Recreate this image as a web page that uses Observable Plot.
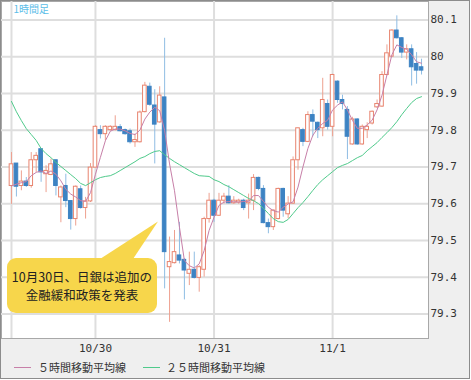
<!DOCTYPE html>
<html>
<head>
<meta charset="utf-8">
<script src="https://cdn.jsdelivr.net/npm/d3@7"></script>
<script src="https://cdn.jsdelivr.net/npm/@observablehq/plot@0.6"></script>
<style>
  html, body { margin: 0; padding: 0; background: #ffffff; }
  #wrap { position: relative; width: 470px; height: 379px; box-sizing: border-box;
          border: 1px solid #8c8c8c; background: #efefef; overflow: hidden; }
  #wrap svg { display: block; }
  .lg-line { position: absolute; height: 0; width: 17px; top: 366px; }
  .lg-text { position: absolute; top: 359px; font: 11px "Noto Sans CJK JP", sans-serif;
             line-height: 14px; color: #333; white-space: nowrap; }
</style>
</head>
<body>
<div id="wrap"></div>
<script>
// 1-hour bars, USD/JPY, times in JST wall clock (stored as UTC)
const start = Date.UTC(2012, 9, 29, 7);
const opens = [79.648,79.709,79.648,79.660,79.648,79.718,79.748,79.680,79.678,79.718,
  79.617,79.648,79.607,79.558,79.639,79.588,79.606,79.698,79.800,79.789,
  79.800,79.800,79.808,79.800,79.797,79.767,79.767,79.849,79.918,79.867,
  79.821,79.889,79.427,79.438,79.459,79.447,79.409,79.420,79.398,79.420,
  79.558,79.608,79.567,79.608,79.619,79.601,79.603,79.608,79.601,79.608,
  79.670,79.640,79.547,79.536,79.558,79.640,79.571,79.600,79.718,79.800,
  79.768,79.841,79.820,79.805,79.871,79.809,79.932,79.882,79.855,79.761,
  79.829,79.761,79.800,79.818,79.862,79.864,79.950,80.000,80.071,80.050,
  80.011,80.020,79.980,79.971];
const highs = [79.739,79.709,79.689,79.671,79.739,79.739,79.748,79.703,79.721,79.718,
  79.648,79.680,79.607,79.648,79.648,79.617,79.709,79.812,79.812,79.812,
  79.812,79.839,79.815,79.803,79.803,79.789,79.852,79.930,79.928,79.910,
  79.918,80.050,79.509,79.527,79.549,79.450,79.468,79.468,79.431,79.563,
  79.628,79.612,79.628,79.628,79.649,79.619,79.612,79.612,79.626,79.679,
  79.672,79.649,79.558,79.583,79.642,79.642,79.619,79.727,79.805,79.805,
  79.850,79.855,79.822,79.941,79.882,79.952,79.934,79.895,79.864,79.835,
  79.831,79.814,79.820,79.852,79.882,79.959,80.032,80.073,80.111,80.052,
  80.032,80.032,80.011,79.993];
const lows = [79.598,79.618,79.635,79.644,79.642,79.685,79.658,79.630,79.676,79.621,
  79.548,79.589,79.528,79.539,79.585,79.558,79.603,79.698,79.776,79.771,
  79.797,79.798,79.795,79.786,79.762,79.753,79.765,79.847,79.865,79.708,
  79.819,79.368,79.277,79.436,79.436,79.338,79.377,79.395,79.359,79.400,
  79.547,79.549,79.565,79.599,79.599,79.598,79.598,79.581,79.558,79.581,
  79.635,79.545,79.518,79.527,79.556,79.563,79.559,79.598,79.691,79.755,
  79.766,79.782,79.777,79.782,79.800,79.782,79.873,79.855,79.720,79.759,
  79.759,79.759,79.777,79.814,79.859,79.862,79.948,79.998,80.048,79.995,
  79.991,79.920,79.925,79.950];
const closes = [79.707,79.646,79.660,79.648,79.718,79.730,79.685,79.689,79.707,79.648,
  79.644,79.607,79.558,79.646,79.588,79.606,79.698,79.809,79.789,79.809,
  79.809,79.809,79.797,79.789,79.767,79.773,79.848,79.921,79.869,79.815,
  79.894,79.468,79.441,79.468,79.445,79.418,79.420,79.398,79.427,79.558,
  79.608,79.567,79.608,79.619,79.601,79.608,79.608,79.588,79.608,79.670,
  79.640,79.547,79.536,79.581,79.640,79.581,79.600,79.718,79.805,79.768,
  79.841,79.823,79.800,79.882,79.809,79.950,79.882,79.871,79.782,79.829,
  79.761,79.809,79.809,79.850,79.871,79.950,80.009,80.071,80.050,80.011,
  80.020,79.971,79.962,79.962];
const ma5 = [79.648,79.653,79.657,79.660,79.676,79.685,79.689,79.682,79.689,79.680,
  79.662,79.639,79.626,79.618,79.608,79.606,79.630,79.680,79.726,79.771,
  79.797,79.803,79.803,79.798,79.791,79.788,79.800,79.830,79.849,79.862,
  79.853,79.799,79.708,79.635,79.536,79.445,79.431,79.425,79.436,79.472,
  79.527,79.563,79.595,79.604,79.606,79.605,79.604,79.606,79.606,79.622,
  79.622,79.606,79.590,79.581,79.577,79.590,79.599,79.605,79.645,79.700,
  79.750,79.786,79.805,79.818,79.827,79.855,79.868,79.877,79.855,79.827,
  79.805,79.805,79.814,79.827,79.855,79.895,79.950,80.005,80.032,80.025,
  80.020,80.005,79.986,79.982];
const ma25 = [79.878,79.850,79.826,79.804,79.788,79.772,79.750,79.736,79.725,79.712,
  79.701,79.690,79.679,79.668,79.655,79.649,79.657,79.665,79.671,79.674,
  79.676,79.682,79.690,79.698,79.706,79.714,79.723,79.728,79.736,79.742,
  79.744,79.733,79.723,79.714,79.706,79.698,79.690,79.682,79.676,79.675,
  79.674,79.665,79.660,79.652,79.646,79.638,79.630,79.622,79.614,79.608,
  79.600,79.587,79.573,79.559,79.551,79.549,79.557,79.573,79.589,79.603,
  79.619,79.636,79.652,79.665,79.676,79.687,79.698,79.704,79.709,79.717,
  79.725,79.731,79.744,79.755,79.766,79.780,79.793,79.807,79.823,79.842,
  79.859,79.875,79.886,79.891];
const yTicks = [79.3, 79.4, 79.5, 79.6, 79.7, 79.8, 79.9, 80.0, 80.1];
const dayTicks = ["2012-10-30", "2012-10-31", "2012-11-01"];
const periodLabel = "1時間足";
const legendLabels = ["５時間移動平均線", "２５時間移動平均線"];
const noteLines = ["10月30日、日銀は追加の", "金融緩和政策を発表"];
const notePoint = { time: Date.UTC(2012, 9, 30, 12, 45), price: 79.55 };

const HOUR = 3600e3;
const UP = "#e8846f", UP_WICK = "#eea08f", DOWN = "#3d83c3", DOWN_WICK = "#8fbde3";
const MA5_COLOR = "#c77fa8", MA25_COLOR = "#4fca8b", YELLOW = "#f7d64b";

const bars = opens.map((o, i) => ({
  t: new Date(start + i * HOUR), open: o, high: highs[i], low: lows[i], close: closes[i],
  up: closes[i] >= o, ma5: ma5[i], ma25: ma25[i]
}));
const upBars = bars.filter(d => d.up), downBars = bars.filter(d => !d.up);
const half = 22 * 60e3;
const dayDates = dayTicks.map(s => new Date(s + "T00:00:00Z"));
const gridDates = [new Date(start), ...dayDates];

const chart = Plot.plot({
  width: 468, height: 357,
  marginLeft: 0, marginRight: 41, marginTop: 0, marginBottom: 20,
  style: { background: "transparent", fontFamily: "'DejaVu Sans Mono', monospace", fontSize: "11px", color: "#333" },
  x: { type: "utc", domain: [new Date(start - 2.02 * HOUR), new Date(start + 84.41 * HOUR)], axis: null, label: null },
  y: { domain: [79.233, 80.150], axis: null, label: null },
  marks: [
    Plot.frame({ fill: "#ffffff", stroke: "#a8a8a8" }),
    Plot.gridY(yTicks, { stroke: "#dedede", strokeWidth: 2, strokeOpacity: 1 }),
    Plot.gridX(gridDates, { stroke: "#dedede", strokeWidth: 2, strokeOpacity: 1 }),
    Plot.axisY(yTicks, { anchor: "right", tickSize: 0, tickPadding: 2, label: null,
      tickFormat: d => String(d), fill: "#333" }),
    Plot.axisX(dayDates, { anchor: "bottom", tickSize: 0, tickPadding: 6, label: null,
      tickFormat: d => `${d.getUTCMonth() + 1}/${d.getUTCDate()}`, fill: "#333" }),
    Plot.text([periodLabel], { frameAnchor: "top-left", dx: 12, dy: 4, fill: "#5bbde8",
      fontSize: 10, fontFamily: "'Noto Sans CJK JP', sans-serif" }),
    Plot.ruleX(upBars, { x: "t", y1: "low", y2: "high", stroke: UP_WICK, strokeWidth: 1 }),
    Plot.ruleX(downBars, { x: "t", y1: "low", y2: "high", stroke: DOWN_WICK, strokeWidth: 1 }),
    Plot.rect(upBars, { x1: d => new Date(+d.t - half), x2: d => new Date(+d.t + half),
      y1: "open", y2: "close", fill: "#ffffff", stroke: UP, strokeWidth: 1 }),
    Plot.rect(downBars, { x1: d => new Date(+d.t - half), x2: d => new Date(+d.t + half),
      y1: "open", y2: "close", fill: DOWN, stroke: DOWN, strokeWidth: 1 }),
    Plot.line(bars, { x: "t", y: "ma25", stroke: MA25_COLOR, strokeWidth: 1 }),
    Plot.line(bars, { x: "t", y: "ma5", stroke: MA5_COLOR, strokeWidth: 1 })
  ]
});

// Callout pointing at the BoJ announcement
const sx = chart.scale("x"), sy = chart.scale("y");
const tipX = sx.apply(new Date(notePoint.time)), tipY = sy.apply(notePoint.price);
const g = d3.select(chart).append("g");
const box = { x: 6, y: 257, w: 150, h: 55 };
g.append("path")
  .attr("d", `M${box.x + 93},${box.y + 1} L${tipX},${tipY} L${box.x + 126},${box.y + 1} Z`)
  .attr("fill", YELLOW);
g.append("rect").attr("x", box.x).attr("y", box.y).attr("width", box.w).attr("height", box.h)
  .attr("rx", 9).attr("fill", YELLOW);
noteLines.forEach((line, i) => {
  g.append("text").attr("x", box.x + box.w / 2).attr("y", box.y + 20 + i * 18)
    .attr("dy", "0.35em").attr("text-anchor", "middle")
    .attr("font-family", "'Noto Sans CJK JP', sans-serif").attr("font-size", 12.5)
    .attr("fill", "#222").text(line);
});

const wrap = document.getElementById("wrap");
wrap.appendChild(chart);

// Legend below the plot
const legendItems = [
  { label: legendLabels[0], color: MA5_COLOR, lineLeft: 13, textLeft: 37 },
  { label: legendLabels[1], color: MA25_COLOR, lineLeft: 142, textLeft: 165 }
];
legendItems.forEach(it => {
  const ln = document.createElement("div");
  ln.className = "lg-line";
  ln.style.left = it.lineLeft + "px";
  ln.style.borderTop = "1px solid " + it.color;
  wrap.appendChild(ln);
  const tx = document.createElement("div");
  tx.className = "lg-text";
  tx.style.left = it.textLeft + "px";
  tx.textContent = it.label;
  wrap.appendChild(tx);
});
</script>
</body>
</html>
